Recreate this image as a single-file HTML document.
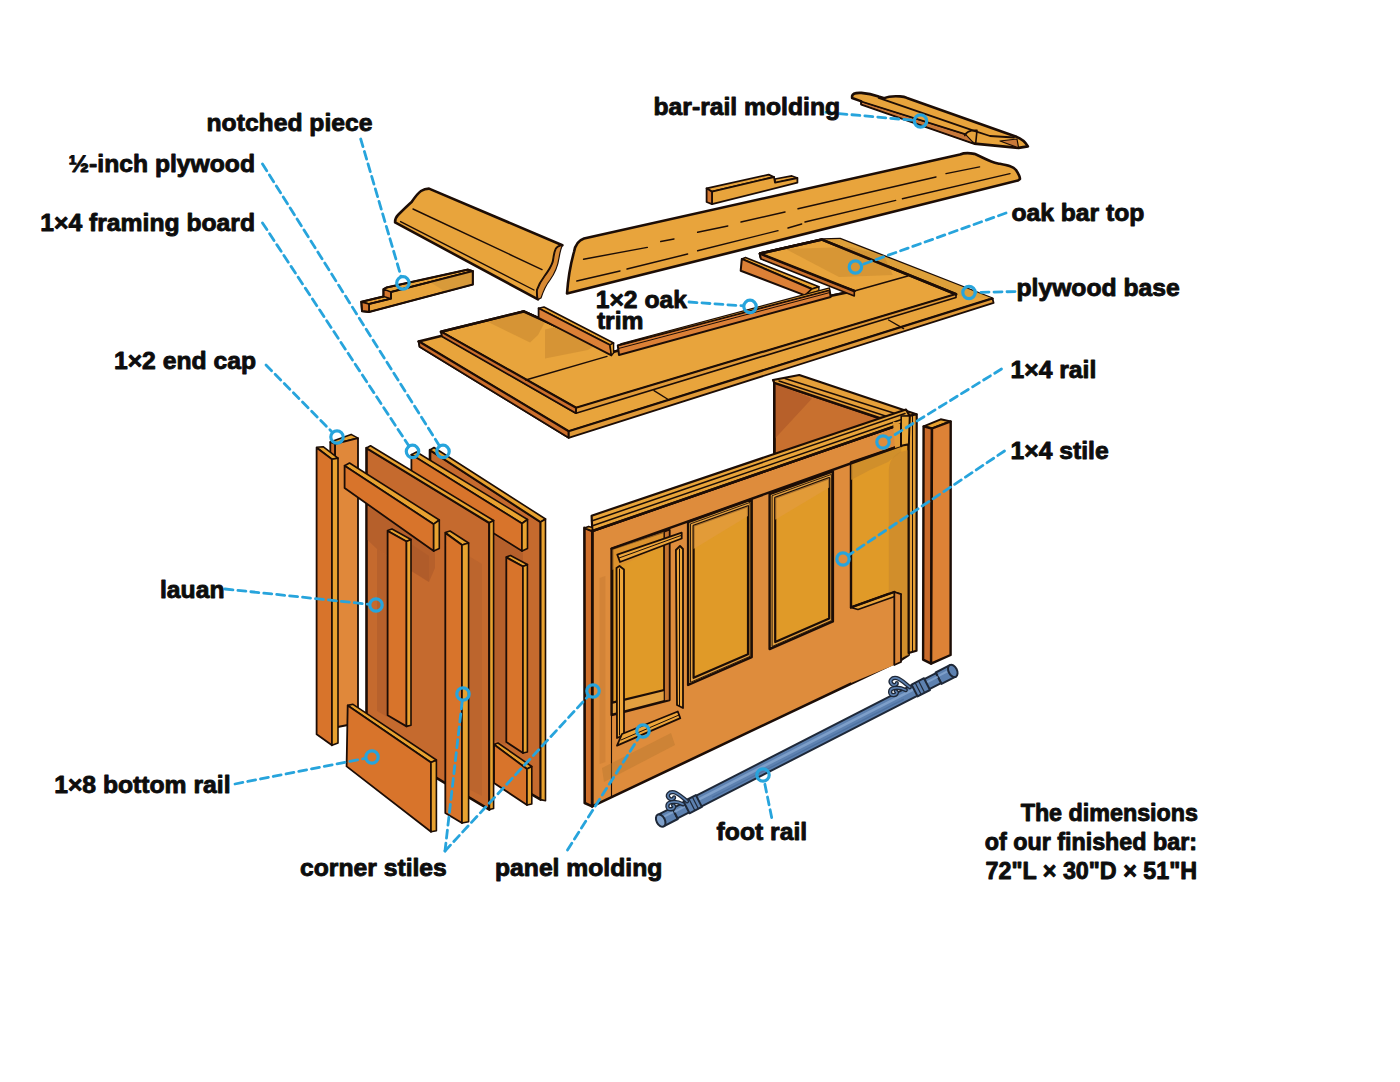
<!DOCTYPE html>
<html><head><meta charset="utf-8"><title>Bar diagram</title>
<style>html,body{margin:0;padding:0;background:#fff;width:1400px;height:1082px;overflow:hidden}svg{display:block}text{font-family:"Liberation Sans",sans-serif}</style>
</head><body>
<svg width="1400" height="1082" viewBox="0 0 1400 1082">
<rect width="1400" height="1082" fill="#ffffff"/>
<path d="M852.1,96 C852.5,93.5 856,92.6 861.4,92.9 C868,93.5 874,95 878.6,96.6 L884.3,98.2 C888,96.5 894,96 900,96.4 C903,96.6 905,97 907,97.9 L1015.7,136.4 C1020,138 1025,141 1027.9,146.4 L1018.6,147.9 L974.3,143.6 L861.4,104.3 L861.4,101.4 L852.1,98 Z" fill="#E8A43C" stroke="#1C0D06" stroke-width="2.6" stroke-linejoin="round" stroke-linecap="round" />
<polygon points="861.4,101.8 965.7,134.6 974.3,143.6 861.4,104.3" fill="#C9793A" stroke="#1C0D06" stroke-width="1.2" stroke-linejoin="round" />
<polygon points="1000.0,141.0 1017.0,139.0 1018.6,147.9" fill="#C9793A" stroke="#1C0D06" stroke-width="1.2" stroke-linejoin="round" />
<polyline points="878.6,97.9 975.7,131.4 990.0,136.0 1014.0,137.5" fill="none" stroke="#1C0D06" stroke-width="1.8" stroke-linecap="round" stroke-linejoin="round" />
<polyline points="861.4,101.4 965.7,134.3" fill="none" stroke="#1C0D06" stroke-width="1.6" stroke-linecap="round" stroke-linejoin="round" />
<path d="M964.8,135.6 C966,132 969,130 977,130.4 L975.7,143.3" fill="none" stroke="#1C0D06" stroke-width="1.6" stroke-linejoin="round" stroke-linecap="round" />
<path d="M567,293.5 C568,280 570,266 574,252 C575,246 578,240.5 584,238.5 L960,154.5 C966,152 970,153 975,154 C984,158 990,162 998,163.5 C1006,165 1013,166 1016,170 C1018,173 1020,176 1020,179 L1018,180.5 Z" fill="#E8A43C" stroke="#1C0D06" stroke-width="2.6" stroke-linejoin="round" stroke-linecap="round" />
<polyline points="583.5,259.2 647.3,247.4" fill="none" stroke="#1C0D06" stroke-width="1.4" stroke-linecap="round" stroke-linejoin="round" />
<polyline points="660.7,241.5 674.0,239.0" fill="none" stroke="#1C0D06" stroke-width="1.4" stroke-linecap="round" stroke-linejoin="round" />
<polyline points="697.6,232.3 727.8,226.0" fill="none" stroke="#1C0D06" stroke-width="1.4" stroke-linecap="round" stroke-linejoin="round" />
<polyline points="741.0,222.0 785.0,212.0" fill="none" stroke="#1C0D06" stroke-width="1.4" stroke-linecap="round" stroke-linejoin="round" />
<polyline points="798.0,208.8 936.0,177.0" fill="none" stroke="#1C0D06" stroke-width="1.4" stroke-linecap="round" stroke-linejoin="round" />
<polyline points="946.0,173.6 979.6,166.9" fill="none" stroke="#1C0D06" stroke-width="1.4" stroke-linecap="round" stroke-linejoin="round" />
<polyline points="576.8,281.0 620.0,271.0" fill="none" stroke="#1C0D06" stroke-width="1.4" stroke-linecap="round" stroke-linejoin="round" />
<polyline points="627.0,269.0 687.6,254.0" fill="none" stroke="#1C0D06" stroke-width="1.4" stroke-linecap="round" stroke-linejoin="round" />
<polyline points="697.6,250.8 778.0,230.6" fill="none" stroke="#1C0D06" stroke-width="1.4" stroke-linecap="round" stroke-linejoin="round" />
<polyline points="788.0,228.0 801.7,224.0" fill="none" stroke="#1C0D06" stroke-width="1.4" stroke-linecap="round" stroke-linejoin="round" />
<polyline points="805.0,222.0 895.7,200.4" fill="none" stroke="#1C0D06" stroke-width="1.4" stroke-linecap="round" stroke-linejoin="round" />
<polyline points="902.4,198.7 1010.0,173.6" fill="none" stroke="#1C0D06" stroke-width="1.4" stroke-linecap="round" stroke-linejoin="round" />
<polygon points="706.6,188.3 768.7,174.6 774.0,177.0 712.0,191.7" fill="#E8A43C" stroke="#1C0D06" stroke-width="1.8" stroke-linejoin="round" />
<polygon points="775.0,179.0 791.9,175.9 797.4,178.0 775.0,183.0" fill="#E8A43C" stroke="#1C0D06" stroke-width="1.6" stroke-linejoin="round" />
<polygon points="712.0,191.7 774.0,177.0 775.0,182.7 797.4,178.0 797.4,182.7 712.0,204.1" fill="#E8A43C" stroke="#1C0D06" stroke-width="1.8" stroke-linejoin="round" />
<polygon points="706.6,188.3 712.0,191.7 712.0,204.1 706.6,202.0" fill="#D4762E" stroke="#1C0D06" stroke-width="1.8" stroke-linejoin="round" />
<path d="M395.1,222.4 C395,219 396,217 398,215 C402,211 407,206 411.6,202 C415,197 418,193 421,191 C424,189 427,188.6 429,188.6 L562.4,245.2 C559,246 557,247 556,249 C554,253 554,258 553,262 C551,268 548,272 545,276 C542,280 539,285 537.3,290 C537,294 537.5,297 538,299.4 Z" fill="#E8A43C" stroke="#1C0D06" stroke-width="2.6" stroke-linejoin="round" stroke-linecap="round" />
<path d="M562.4,245.2 C559,246 557,247 556,249 C554,253 554,258 553,262 C551,268 548,272 545,276 C542,280 539,285 537.3,290 C537,294 537.5,297 538,299.4 L541,298 C543,292 546,285 550,280 C555,273 558,265 559,258 C560,252 561,248 562.4,245.2 Z" fill="#D98A34" stroke="#1C0D06" stroke-width="1.2" stroke-linejoin="round" stroke-linecap="round" />
<polyline points="413.0,209.0 542.0,269.6" fill="none" stroke="#1C0D06" stroke-width="1.4" stroke-linecap="round" stroke-linejoin="round" />
<polyline points="400.6,221.6 534.0,290.0" fill="none" stroke="#1C0D06" stroke-width="1.4" stroke-linecap="round" stroke-linejoin="round" />
<polygon points="361.3,301.8 383.5,296.5 383.5,289.2 386.4,287.6 468.0,269.6 472.8,271.1 391.0,292.0 391.0,298.6 369.0,304.0" fill="#E8A43C" stroke="#1C0D06" stroke-width="1.8" stroke-linejoin="round" />
<polygon points="369.0,304.0 391.0,298.6 391.0,292.0 472.8,271.1 472.8,284.5 369.0,312.0" fill="#E8A43C" stroke="#1C0D06" stroke-width="1.8" stroke-linejoin="round" />
<polygon points="430.0,282.0 472.8,271.1 472.8,284.5 445.0,291.5" fill="#D89A3A" />
<polygon points="361.3,301.8 369.0,304.0 369.0,312.0 362.0,311.2" fill="#D4762E" stroke="#1C0D06" stroke-width="1.8" stroke-linejoin="round" />
<polygon points="383.5,289.2 391.0,292.0 391.0,298.6 383.5,296.5" fill="#D4762E" stroke="#1C0D06" stroke-width="1.4" stroke-linejoin="round" />
<polyline points="369.0,304.0 391.0,298.6 391.0,292.0 472.8,271.1 472.8,284.5 369.0,312.0 362.0,311.2 361.3,301.8 383.5,296.5 383.5,289.2 386.4,287.6 468.0,269.6 472.8,271.1" fill="none" stroke="#1C0D06" stroke-width="2" stroke-linecap="round" stroke-linejoin="round" />
<polygon points="418.6,341.4 441.0,336.0 523.6,311.4 613.0,352.0 830.0,296.0 854.3,291.0 761.0,258.0 760.0,253.6 822.0,239.6 840.0,239.0 992.5,298.6 568.6,431.4" fill="#E8A43C" stroke="#1C0D06" stroke-width="2.6" stroke-linejoin="round" />
<polygon points="822.0,239.6 840.0,239.0 992.5,298.6 956.0,296.0" fill="#DDA03A" />
<polygon points="418.6,341.4 568.6,431.4 992.5,298.6 993.6,302.9 568.6,437.8 419.6,346.8" fill="#E09A38" stroke="#1C0D06" stroke-width="1.8" stroke-linejoin="round" />
<polygon points="418.6,341.4 568.6,431.4 568.6,437.8 419.6,346.8" fill="#CC6F2C" stroke="#1C0D06" stroke-width="1.8" stroke-linejoin="round" />
<polyline points="568.6,431.4 568.6,437.8" fill="none" stroke="#1C0D06" stroke-width="1.6" stroke-linecap="round" stroke-linejoin="round" />
<polyline points="654.0,390.7 669.0,400.0" fill="none" stroke="#1C0D06" stroke-width="1.4" stroke-linecap="round" stroke-linejoin="round" />
<polyline points="888.6,320.0 903.6,328.6" fill="none" stroke="#1C0D06" stroke-width="1.4" stroke-linecap="round" stroke-linejoin="round" />
<polygon points="441.0,331.8 523.6,311.4 613.0,352.0 830.0,296.0 854.3,291.0 761.0,258.0 760.0,253.6 822.0,239.6 956.0,294.3 576.0,407.9" fill="#E8A43C" stroke="#1C0D06" stroke-width="2.6" stroke-linejoin="round" />
<polygon points="760.0,253.6 854.3,291.0 854.3,296.0 761.0,259.0" fill="#C9702C" stroke="#1C0D06" stroke-width="1.6" stroke-linejoin="round" />
<polygon points="441.0,331.8 576.0,407.9 956.0,294.3 956.0,297.5 576.0,413.2 442.0,336.0" fill="#E09A38" stroke="#1C0D06" stroke-width="1.6" stroke-linejoin="round" />
<polygon points="441.0,331.8 576.0,407.9 576.0,413.2 442.0,336.5" fill="#CC6F2C" stroke="#1C0D06" stroke-width="1.8" stroke-linejoin="round" />
<polyline points="576.0,407.9 576.0,413.2" fill="none" stroke="#1C0D06" stroke-width="1.4" stroke-linecap="round" stroke-linejoin="round" />
<polyline points="525.7,380.0 607.0,356.4" fill="none" stroke="#1C0D06" stroke-width="1.4" stroke-linecap="round" stroke-linejoin="round" />
<polyline points="854.3,291.0 907.8,276.0" fill="none" stroke="#1C0D06" stroke-width="1.4" stroke-linecap="round" stroke-linejoin="round" />
<polygon points="488.0,322.0 523.6,311.4 545.0,322.0 538.0,335.0 530.0,342.5" fill="#C98A30" opacity="0.6"/>
<polygon points="545.0,329.6 560.0,326.0 598.0,344.0 587.8,350.0 545.0,358.6" fill="#C98A30" opacity="0.6"/>
<polygon points="785.7,249.0 850.0,247.0 884.0,255.7 892.8,275.0 839.0,277.0" fill="#C98A30" opacity="0.55"/>
<polyline points="441.0,331.8 523.6,311.4 613.0,352.0" fill="none" stroke="#1C0D06" stroke-width="2.6" stroke-linecap="round" stroke-linejoin="round" />
<polyline points="854.3,291.0 760.0,253.6 822.0,239.6 956.0,294.3" fill="none" stroke="#1C0D06" stroke-width="2.6" stroke-linecap="round" stroke-linejoin="round" />
<polygon points="538.6,308.2 544.0,307.0 613.6,343.0 610.0,345.0" fill="#E8A230" stroke="#1C0D06" stroke-width="1.6" stroke-linejoin="round" />
<polygon points="538.6,308.2 610.0,345.0 611.4,355.4 538.6,317.8" fill="#DC8036" stroke="#1C0D06" stroke-width="1.8" stroke-linejoin="round" />
<polygon points="610.0,345.0 613.6,343.0 613.6,353.0 611.4,355.4" fill="#E8A230" stroke="#1C0D06" stroke-width="1.4" stroke-linejoin="round" />
<polygon points="741.8,258.9 745.5,257.5 818.9,286.8 812.0,289.0" fill="#E8A230" stroke="#1C0D06" stroke-width="1.6" stroke-linejoin="round" />
<polygon points="741.8,258.9 812.0,289.0 805.0,295.4 740.7,270.7" fill="#DC8036" stroke="#1C0D06" stroke-width="2.0" stroke-linejoin="round" />
<polygon points="812.0,289.0 818.9,286.8 818.9,291.0 805.0,295.4" fill="#E8A230" stroke="#1C0D06" stroke-width="1.4" stroke-linejoin="round" />
<polygon points="617.8,345.5 829.6,290.0 830.7,297.0 619.0,355.0" fill="#DC8036" stroke="#1C0D06" stroke-width="2.0" stroke-linejoin="round" />
<polygon points="617.8,345.5 621.5,343.5 829.6,287.8 829.6,290.0" fill="#E8A230" stroke="#1C0D06" stroke-width="1.2" stroke-linejoin="round" />
<polyline points="618.5,348.5 830.0,292.5" fill="none" stroke="#1C0D06" stroke-width="1.0" stroke-linecap="round" stroke-linejoin="round" />
<polygon points="774.3,382.9 885.0,420.0 885.0,470.0 774.3,470.0" fill="#C8702F" stroke="#1C0D06" stroke-width="2.4" stroke-linejoin="round" />
<polygon points="774.3,382.9 812.0,398.6 774.3,439.3" fill="#B7602A" />
<polyline points="774.3,381.0 774.3,455.0" fill="none" stroke="#1C0D06" stroke-width="2.6" stroke-linecap="round" stroke-linejoin="round" />
<polygon points="773.0,380.0 799.3,375.0 916.4,414.3 909.6,415.9 879.3,417.9 774.3,382.9" fill="#E6A03A" stroke="#1C0D06" stroke-width="2.2" stroke-linejoin="round" />
<polyline points="785.0,378.5 903.0,416.0" fill="none" stroke="#1C0D06" stroke-width="1.5" stroke-linecap="round" stroke-linejoin="round" />
<polyline points="779.0,381.0 890.0,417.5" fill="none" stroke="#1C0D06" stroke-width="1.5" stroke-linecap="round" stroke-linejoin="round" />
<polygon points="592.3,531.0 901.2,424.0 901.0,660.0 592.1,806.4" fill="#DE8C3C" stroke="#1C0D06" stroke-width="2.6" stroke-linejoin="round" />
<polygon points="591.6,515.7 906.0,409.5 909.6,415.9 901.2,424.0 592.3,531.0" fill="#E9A53A" stroke="#1C0D06" stroke-width="2.2" stroke-linejoin="round" />
<polyline points="591.6,521.0 905.0,413.5" fill="none" stroke="#1C0D06" stroke-width="1.5" stroke-linecap="round" stroke-linejoin="round" />
<polyline points="591.8,526.0 903.0,419.0" fill="none" stroke="#1C0D06" stroke-width="1.5" stroke-linecap="round" stroke-linejoin="round" />
<polygon points="584.4,527.9 592.3,531.0 592.1,806.4 584.7,803.0" fill="#CF6F2B" stroke="#1C0D06" stroke-width="2.6" stroke-linejoin="round" />
<polygon points="584.4,527.9 588.7,526.4 592.3,527.5 592.3,531.0" fill="#E8A230" stroke="#1C0D06" stroke-width="1.6" stroke-linejoin="round" />
<polyline points="592.3,531.0 901.2,424.0" fill="none" stroke="#1C0D06" stroke-width="2.4" stroke-linecap="round" stroke-linejoin="round" />
<polyline points="611.5,548.9 611.5,797.3" fill="none" stroke="#1C0D06" stroke-width="1.1" stroke-linecap="round" stroke-linejoin="round" />
<polygon points="688.1,522.0 751.7,499.3 751.7,657.1 688.1,685.0" fill="#E2A040" stroke="#1C0D06" stroke-width="2.4" stroke-linejoin="round" />
<polygon points="690.5,523.8 750.1,502.4 750.1,656.3 690.5,682.3" fill="#E2A040" stroke="#1C0D06" stroke-width="0.9" stroke-linejoin="round" />
<polygon points="693.6,525.8 748.0,506.2 748.0,654.2 693.6,677.8" fill="#E09A28" stroke="#1C0D06" stroke-width="2.2" stroke-linejoin="round" />
<polygon points="693.6,525.8 748.0,506.2 748.0,515.9 693.6,548.9" fill="#E39B3E" opacity="0.7"/>
<polygon points="769.6,494.1 832.9,471.4 832.9,621.4 769.6,649.1" fill="#E2A040" stroke="#1C0D06" stroke-width="2.4" stroke-linejoin="round" />
<polygon points="772.1,495.7 831.4,474.4 831.4,620.6 772.1,646.5" fill="#E2A040" stroke="#1C0D06" stroke-width="0.9" stroke-linejoin="round" />
<polygon points="775.2,497.7 829.2,478.1 829.2,618.6 775.2,642.1" fill="#E09A28" stroke="#1C0D06" stroke-width="2.2" stroke-linejoin="round" />
<polygon points="775.2,497.7 829.2,478.1 829.2,487.4 775.2,519.8" fill="#E39B3E" opacity="0.7"/>
<polygon points="611.6,548.8 669.4,530.0 669.4,700.0 611.6,715.0" fill="#E2A040" stroke="#1C0D06" stroke-width="2.4" stroke-linejoin="round" />
<polygon points="612.3,548.9 664.3,531.6 664.3,690.0 612.3,702.6" fill="#E09A28" stroke="#1C0D06" stroke-width="2.2" stroke-linejoin="round" />
<polygon points="612.3,548.9 664.3,531.6 664.3,545.0 612.3,570.0" fill="#D88D30" opacity="0.6"/>
<polygon points="664.3,532.0 669.4,530.0 669.4,700.0 664.3,701.0" fill="#C57430" stroke="#1C0D06" stroke-width="1.2" stroke-linejoin="round" />
<polygon points="602.0,768.0 671.0,733.0 675.0,745.0 604.0,782.0" fill="#B8772E" opacity="0.45"/>
<polygon points="599.6,578.0 605.4,576.0 605.4,762.0 599.6,764.0" fill="#C67A32" opacity="0.5"/>
<polygon points="851.0,462.5 901.2,445.5 908.7,444.0 908.7,655.0 901.0,660.0 894.3,592.0 851.0,607.5" fill="#E09A28" stroke="#1C0D06" stroke-width="2.4" stroke-linejoin="round" />
<path d="M888.8,470 C889,462 893,455 900,452 L908.7,450 L908.7,655 L888.8,663 Z" fill="#CC8A2C" opacity="0.75"/>
<polygon points="851.0,462.5 901.2,445.5 901.2,452.0 888.0,462.0 870.0,470.0 851.0,480.0" fill="#C98A2C" opacity="0.7"/>
<polyline points="611.5,548.7 901.2,445.5" fill="none" stroke="#1C0D06" stroke-width="2.4" stroke-linecap="round" stroke-linejoin="round" />
<polygon points="893.0,421.5 901.2,424.0 901.2,446.0 895.0,448.0" fill="#E39A35" />
<polyline points="901.2,424.0 901.2,446.0" fill="none" stroke="#1C0D06" stroke-width="2.4" stroke-linecap="round" stroke-linejoin="round" />
<polygon points="851.0,607.5 894.3,592.0 894.3,665.0 851.0,683.0" fill="#DE8C3C" />
<polygon points="851.0,607.5 894.3,592.0 901.0,594.2 858.0,609.5" fill="#E9A53A" stroke="#1C0D06" stroke-width="1.6" stroke-linejoin="round" />
<polygon points="894.3,592.0 901.0,594.2 901.0,662.0 894.3,665.0" fill="#D98538" stroke="#1C0D06" stroke-width="1.8" stroke-linejoin="round" />
<polyline points="851.0,607.5 894.3,592.0" fill="none" stroke="#1C0D06" stroke-width="2.2" stroke-linecap="round" stroke-linejoin="round" />
<polygon points="908.7,444.0 909.6,415.9 916.7,414.3 916.5,650.7 908.7,653.0" fill="#E5A038" stroke="#1C0D06" stroke-width="2.2" stroke-linejoin="round" />
<polyline points="912.5,416.0 912.5,651.0" fill="none" stroke="#1C0D06" stroke-width="1.0" stroke-linecap="round" stroke-linejoin="round" />
<polygon points="901.2,424.0 901.2,416.0 909.6,415.9 908.7,444.0 901.2,445.5" fill="#E8A83A" stroke="#1C0D06" stroke-width="1.6" stroke-linejoin="round" />
<polygon points="616.5,567.9 619.5,566.0 624.0,569.5 624.0,735.0 617.0,738.0" fill="#EDA53A" stroke="#1C0D06" stroke-width="1.8" stroke-linejoin="round" />
<polyline points="619.5,569.0 619.5,735.0" fill="none" stroke="#1C0D06" stroke-width="1.0" stroke-linecap="round" stroke-linejoin="round" />
<polygon points="675.9,550.0 680.0,546.0 683.0,549.0 683.0,708.0 677.0,705.0" fill="#EDA53A" stroke="#1C0D06" stroke-width="1.8" stroke-linejoin="round" />
<polyline points="679.5,549.0 679.5,706.0" fill="none" stroke="#1C0D06" stroke-width="1.0" stroke-linecap="round" stroke-linejoin="round" />
<polygon points="617.3,554.7 681.7,532.7 681.7,538.5 620.0,562.0" fill="#EDA53A" stroke="#1C0D06" stroke-width="1.8" stroke-linejoin="round" />
<polyline points="619.0,558.0 681.0,535.5" fill="none" stroke="#1C0D06" stroke-width="1.0" stroke-linecap="round" stroke-linejoin="round" />
<polygon points="622.0,734.0 677.8,711.5 680.3,718.2 617.0,745.6" fill="#EDA53A" stroke="#1C0D06" stroke-width="1.8" stroke-linejoin="round" />
<polyline points="621.0,740.0 679.0,715.0" fill="none" stroke="#1C0D06" stroke-width="1.0" stroke-linecap="round" stroke-linejoin="round" />
<polygon points="923.6,426.4 940.7,419.3 950.7,421.4 932.0,428.5" fill="#E8A230" stroke="#1C0D06" stroke-width="2.0" stroke-linejoin="round" />
<polygon points="923.6,426.4 932.0,428.5 931.1,663.6 923.1,659.6" fill="#C96A2A" stroke="#1C0D06" stroke-width="2.4" stroke-linejoin="round" />
<polygon points="932.0,428.5 950.7,421.4 950.6,655.0 931.1,663.6" fill="#DD8236" stroke="#1C0D06" stroke-width="2.4" stroke-linejoin="round" />
<polygon points="690.9,798.4 917.2,682.4 922.6,693.1 696.3,809.1" fill="#5D81B0" stroke="#1E2838" stroke-width="2.0" stroke-linejoin="round" />
<polyline points="700.0,798.8 912.1,690.1" fill="none" stroke="#7E9FC9" stroke-width="2.6" stroke-linecap="round" stroke-linejoin="round" />
<polyline points="712.7,797.1 903.4,699.4" fill="none" stroke="#4E72A2" stroke-width="1.2" stroke-linecap="round" stroke-linejoin="round" />
<polygon points="657.8,814.9 672.0,807.6 677.8,819.0 663.6,826.3" fill="#5D81B0" stroke="#1E2838" stroke-width="2.0" stroke-linejoin="round" />
<polyline points="661.5,817.9 673.1,812.0" fill="none" stroke="#7E9FC9" stroke-width="2.0" stroke-linecap="round" stroke-linejoin="round" />
<polygon points="672.4,808.3 687.5,800.6 692.6,810.6 677.5,818.3" fill="#5D81B0" stroke="#1E2838" stroke-width="2.0" stroke-linejoin="round" />
<polyline points="675.1,811.5 688.4,804.6" fill="none" stroke="#7E9FC9" stroke-width="2.0" stroke-linecap="round" stroke-linejoin="round" />
<polygon points="683.5,801.5 695.9,795.1 701.9,806.9 689.5,813.3" fill="#5D81B0" stroke="#1E2838" stroke-width="2.0" stroke-linejoin="round" />
<polyline points="689.1,799.3 694.6,810.0" fill="none" stroke="#1E2838" stroke-width="1.2" stroke-linecap="round" stroke-linejoin="round" />
<polyline points="692.6,797.5 698.1,808.2" fill="none" stroke="#1E2838" stroke-width="1.2" stroke-linecap="round" stroke-linejoin="round" />
<ellipse cx="660.7" cy="820.6" rx="4.2" ry="6.6" transform="rotate(-27.1 660.7 820.6)" fill="#7E9FC9" stroke="#1E2838" stroke-width="2"/>
<polygon points="935.7,672.5 949.9,665.2 955.7,676.6 941.5,683.9" fill="#5D81B0" stroke="#1E2838" stroke-width="2.0" stroke-linejoin="round" />
<polyline points="938.6,675.9 950.1,670.0" fill="none" stroke="#7E9FC9" stroke-width="2.0" stroke-linecap="round" stroke-linejoin="round" />
<polygon points="920.9,680.9 936.0,673.2 941.1,683.2 926.0,690.9" fill="#5D81B0" stroke="#1E2838" stroke-width="2.0" stroke-linejoin="round" />
<polyline points="923.6,684.0 937.0,677.2" fill="none" stroke="#7E9FC9" stroke-width="2.0" stroke-linecap="round" stroke-linejoin="round" />
<polygon points="911.6,684.6 924.0,678.2 930.0,690.0 917.6,696.4" fill="#5D81B0" stroke="#1E2838" stroke-width="2.0" stroke-linejoin="round" />
<polyline points="918.9,681.5 924.4,692.2" fill="none" stroke="#1E2838" stroke-width="1.2" stroke-linecap="round" stroke-linejoin="round" />
<polyline points="915.4,683.3 920.9,694.0" fill="none" stroke="#1E2838" stroke-width="1.2" stroke-linecap="round" stroke-linejoin="round" />
<ellipse cx="952.8" cy="670.9" rx="4.2" ry="6.6" transform="rotate(-27.1 952.8 670.9)" fill="#5D81B0" stroke="#1E2838" stroke-width="2"/>
<path d="M687.1,801.3 C682.1,797.3 678.1,793.3 674.1,792.3 C669.1,791.3 666.1,795.3 669.1,798.3 C671.1,800.3 674.1,799.3 674.1,797.3" fill="none" stroke="#1E2838" stroke-width="4.2" stroke-linejoin="round" stroke-linecap="round" />
<path d="M687.1,801.3 C682.1,797.3 678.1,793.3 674.1,792.3 C669.1,791.3 666.1,795.3 669.1,798.3 C671.1,800.3 674.1,799.3 674.1,797.3" fill="none" stroke="#5D81B0" stroke-width="1.6" stroke-linejoin="round" stroke-linecap="round" />
<path d="M683.1,804.3 C679.1,802.3 675.1,801.3 671.1,802.3 C666.1,803.3 666.1,809.3 671.1,809.3 C674.1,809.3 675.1,806.3 673.1,805.3" fill="none" stroke="#1E2838" stroke-width="4.2" stroke-linejoin="round" stroke-linecap="round" />
<path d="M683.1,804.3 C679.1,802.3 675.1,801.3 671.1,802.3 C666.1,803.3 666.1,809.3 671.1,809.3 C674.1,809.3 675.1,806.3 673.1,805.3" fill="none" stroke="#5D81B0" stroke-width="1.6" stroke-linejoin="round" stroke-linecap="round" />
<path d="M909.8,687.1 C904.8,683.1 900.8,679.1 896.8,678.1 C891.8,677.1 888.8,681.1 891.8,684.1 C893.8,686.1 896.8,685.1 896.8,683.1" fill="none" stroke="#1E2838" stroke-width="4.2" stroke-linejoin="round" stroke-linecap="round" />
<path d="M909.8,687.1 C904.8,683.1 900.8,679.1 896.8,678.1 C891.8,677.1 888.8,681.1 891.8,684.1 C893.8,686.1 896.8,685.1 896.8,683.1" fill="none" stroke="#5D81B0" stroke-width="1.6" stroke-linejoin="round" stroke-linecap="round" />
<path d="M905.8,690.1 C901.8,688.1 897.8,687.1 893.8,688.1 C888.8,689.1 888.8,695.1 893.8,695.1 C896.8,695.1 897.8,692.1 895.8,691.1" fill="none" stroke="#1E2838" stroke-width="4.2" stroke-linejoin="round" stroke-linecap="round" />
<path d="M905.8,690.1 C901.8,688.1 897.8,687.1 893.8,688.1 C888.8,689.1 888.8,695.1 893.8,695.1 C896.8,695.1 897.8,692.1 895.8,691.1" fill="none" stroke="#5D81B0" stroke-width="1.6" stroke-linejoin="round" stroke-linecap="round" />
<polygon points="430.0,450.0 540.7,522.0 540.7,799.6 430.0,735.0" fill="#C56A2E" stroke="#1C0D06" stroke-width="2.6" stroke-linejoin="round" />
<polygon points="430.0,450.0 434.0,447.5 545.5,519.0 540.7,522.0" fill="#E8A230" stroke="#1C0D06" stroke-width="1.6" stroke-linejoin="round" />
<polygon points="540.7,522.0 545.5,519.0 545.5,800.8 540.7,799.6" fill="#E8A230" stroke="#1C0D06" stroke-width="1.6" stroke-linejoin="round" />
<polygon points="494.0,535.0 523.0,553.0 523.0,565.0 506.0,567.0 506.0,745.0 494.0,740.0" fill="#A9582A" opacity="0.55"/>
<polygon points="411.4,454.6 416.5,452.0 527.5,519.5 522.0,523.5" fill="#E8A230" stroke="#1C0D06" stroke-width="1.6" stroke-linejoin="round" />
<polygon points="411.4,454.6 522.0,523.5 522.0,551.0 411.4,482.0" fill="#D8742B" stroke="#1C0D06" stroke-width="1.8" stroke-linejoin="round" />
<polygon points="522.0,523.5 527.5,519.5 527.5,548.5 522.0,551.0" fill="#E8A230" stroke="#1C0D06" stroke-width="1.6" stroke-linejoin="round" />
<polygon points="506.3,557.0 510.5,555.5 527.4,564.5 523.0,566.5" fill="#E8A230" stroke="#1C0D06" stroke-width="1.6" stroke-linejoin="round" />
<polygon points="506.3,557.5 523.0,566.5 523.0,753.0 506.3,742.0" fill="#D8742B" stroke="#1C0D06" stroke-width="1.8" stroke-linejoin="round" />
<polygon points="523.0,566.5 527.4,564.5 527.4,752.0 523.0,753.0" fill="#E8A230" stroke="#1C0D06" stroke-width="1.6" stroke-linejoin="round" />
<polygon points="494.0,744.5 498.0,743.0 531.8,766.5 527.0,769.0" fill="#E8A230" stroke="#1C0D06" stroke-width="1.6" stroke-linejoin="round" />
<polygon points="494.0,744.5 527.0,769.0 527.0,805.0 494.0,783.0" fill="#D8742B" stroke="#1C0D06" stroke-width="1.8" stroke-linejoin="round" />
<polygon points="527.0,769.0 531.8,766.5 531.8,804.0 527.0,805.0" fill="#E8A230" stroke="#1C0D06" stroke-width="1.6" stroke-linejoin="round" />
<polygon points="366.5,448.0 489.4,522.8 489.4,809.6 366.5,736.0" fill="#C56A2E" stroke="#1C0D06" stroke-width="2.6" stroke-linejoin="round" />
<polygon points="366.5,448.0 370.5,445.8 493.6,520.5 489.4,522.8" fill="#E8A230" stroke="#1C0D06" stroke-width="1.6" stroke-linejoin="round" />
<polygon points="489.4,522.8 493.6,520.5 493.6,808.5 489.4,809.6" fill="#E8A230" stroke="#1C0D06" stroke-width="1.6" stroke-linejoin="round" />
<polygon points="367.5,506.0 435.0,549.0 435.0,568.0 429.0,582.0 377.0,549.0 367.5,540.0" fill="#A9582A" opacity="0.55"/>
<polygon points="377.0,549.0 387.6,556.0 387.6,717.0 377.0,711.0" fill="#A9582A" opacity="0.5"/>
<polygon points="411.0,544.0 429.0,556.0 429.0,582.0 411.0,571.0" fill="#A9582A" opacity="0.45"/>
<polygon points="468.6,556.0 482.0,564.0 482.0,796.0 468.6,789.0" fill="#A9582A" opacity="0.3"/>
<polygon points="387.6,530.6 392.0,529.0 411.0,539.5 406.5,541.5" fill="#E8A230" stroke="#1C0D06" stroke-width="1.6" stroke-linejoin="round" />
<polygon points="387.6,531.0 406.5,541.5 406.5,726.4 387.6,715.3" fill="#D8742B" stroke="#1C0D06" stroke-width="1.8" stroke-linejoin="round" />
<polygon points="406.5,541.5 411.0,539.5 411.0,725.3 406.5,726.4" fill="#E8A230" stroke="#1C0D06" stroke-width="1.6" stroke-linejoin="round" />
<polygon points="445.3,532.5 450.0,531.0 468.6,543.0 462.0,545.0" fill="#E8A230" stroke="#1C0D06" stroke-width="1.6" stroke-linejoin="round" />
<polygon points="445.3,533.0 462.0,545.0 462.0,823.0 445.3,813.0" fill="#D8742B" stroke="#1C0D06" stroke-width="1.8" stroke-linejoin="round" />
<polygon points="462.0,545.0 468.6,543.0 468.6,821.8 462.0,823.0" fill="#E8A230" stroke="#1C0D06" stroke-width="1.6" stroke-linejoin="round" />
<polygon points="330.3,442.0 351.1,434.4 358.0,438.1 335.1,443.9" fill="#E8A230" stroke="#1C0D06" stroke-width="1.6" stroke-linejoin="round" />
<polygon points="330.3,442.0 335.1,443.9 335.1,727.5 330.3,726.0" fill="#C96A2A" stroke="#1C0D06" stroke-width="1.8" stroke-linejoin="round" />
<polygon points="335.1,443.9 358.0,438.1 358.0,723.0 335.1,727.5" fill="#E0883A" stroke="#1C0D06" stroke-width="1.8" stroke-linejoin="round" />
<polygon points="344.6,465.7 349.5,463.0 439.3,520.0 433.7,524.2" fill="#E8A230" stroke="#1C0D06" stroke-width="1.6" stroke-linejoin="round" />
<polygon points="344.6,465.7 433.7,524.2 433.7,551.1 344.6,488.0" fill="#D8742B" stroke="#1C0D06" stroke-width="1.8" stroke-linejoin="round" />
<polygon points="433.7,524.2 439.3,520.0 439.3,548.5 433.7,551.1" fill="#E8A230" stroke="#1C0D06" stroke-width="1.6" stroke-linejoin="round" />
<polygon points="347.7,705.4 353.0,704.3 436.4,760.0 431.0,762.5" fill="#E8A230" stroke="#1C0D06" stroke-width="1.6" stroke-linejoin="round" />
<polygon points="347.7,705.4 431.0,762.5 431.0,831.8 346.6,766.4" fill="#D8742B" stroke="#1C0D06" stroke-width="1.8" stroke-linejoin="round" />
<polygon points="431.0,762.5 436.4,760.0 436.4,830.7 431.0,831.8" fill="#E8A230" stroke="#1C0D06" stroke-width="1.6" stroke-linejoin="round" />
<polygon points="316.6,447.3 323.1,446.7 338.0,458.1 332.0,459.3" fill="#E8A230" stroke="#1C0D06" stroke-width="1.6" stroke-linejoin="round" />
<polygon points="316.6,447.8 332.0,459.3 332.0,745.3 316.6,734.2" fill="#D8742B" stroke="#1C0D06" stroke-width="1.8" stroke-linejoin="round" />
<polygon points="332.0,459.3 338.0,458.1 338.0,743.0 332.0,745.3" fill="#E8A230" stroke="#1C0D06" stroke-width="1.6" stroke-linejoin="round" />
<polyline points="826.0,112.4 914.0,120.4" fill="none" stroke="#27A4DC" stroke-width="2.8" stroke-linecap="round" stroke-linejoin="round" stroke-dasharray="8 5" stroke-linecap="butt"/>
<polyline points="1006.0,213.0 861.5,264.8" fill="none" stroke="#27A4DC" stroke-width="2.8" stroke-linecap="round" stroke-linejoin="round" stroke-dasharray="8 5" stroke-linecap="butt"/>
<polyline points="1015.0,291.6 975.5,292.4" fill="none" stroke="#27A4DC" stroke-width="2.8" stroke-linecap="round" stroke-linejoin="round" stroke-dasharray="8 5" stroke-linecap="butt"/>
<polyline points="689.0,302.0 743.5,305.9" fill="none" stroke="#27A4DC" stroke-width="2.8" stroke-linecap="round" stroke-linejoin="round" stroke-dasharray="8 5" stroke-linecap="butt"/>
<polyline points="1001.5,369.0 888.5,438.6" fill="none" stroke="#27A4DC" stroke-width="2.8" stroke-linecap="round" stroke-linejoin="round" stroke-dasharray="8 5" stroke-linecap="butt"/>
<polyline points="1004.5,451.0 848.4,555.4" fill="none" stroke="#27A4DC" stroke-width="2.8" stroke-linecap="round" stroke-linejoin="round" stroke-dasharray="8 5" stroke-linecap="butt"/>
<polyline points="360.7,139.0 401.1,276.7" fill="none" stroke="#27A4DC" stroke-width="2.8" stroke-linecap="round" stroke-linejoin="round" stroke-dasharray="8 5" stroke-linecap="butt"/>
<polyline points="262.5,164.0 439.5,445.9" fill="none" stroke="#27A4DC" stroke-width="2.8" stroke-linecap="round" stroke-linejoin="round" stroke-dasharray="8 5" stroke-linecap="butt"/>
<polyline points="262.5,222.9 408.9,446.0" fill="none" stroke="#27A4DC" stroke-width="2.8" stroke-linecap="round" stroke-linejoin="round" stroke-dasharray="8 5" stroke-linecap="butt"/>
<polyline points="266.0,365.0 332.4,432.4" fill="none" stroke="#27A4DC" stroke-width="2.8" stroke-linecap="round" stroke-linejoin="round" stroke-dasharray="8 5" stroke-linecap="butt"/>
<polyline points="225.0,589.0 369.5,604.3" fill="none" stroke="#27A4DC" stroke-width="2.8" stroke-linecap="round" stroke-linejoin="round" stroke-dasharray="8 5" stroke-linecap="butt"/>
<polyline points="235.0,784.0 365.6,758.3" fill="none" stroke="#27A4DC" stroke-width="2.8" stroke-linecap="round" stroke-linejoin="round" stroke-dasharray="8 5" stroke-linecap="butt"/>
<polyline points="445.0,851.0 462.3,700.5" fill="none" stroke="#27A4DC" stroke-width="2.8" stroke-linecap="round" stroke-linejoin="round" stroke-dasharray="8 5" stroke-linecap="butt"/>
<polyline points="445.0,851.0 588.6,695.8" fill="none" stroke="#27A4DC" stroke-width="2.8" stroke-linecap="round" stroke-linejoin="round" stroke-dasharray="8 5" stroke-linecap="butt"/>
<polyline points="567.5,850.0 639.5,736.5" fill="none" stroke="#27A4DC" stroke-width="2.8" stroke-linecap="round" stroke-linejoin="round" stroke-dasharray="8 5" stroke-linecap="butt"/>
<polyline points="771.7,817.6 764.3,781.4" fill="none" stroke="#27A4DC" stroke-width="2.8" stroke-linecap="round" stroke-linejoin="round" stroke-dasharray="8 5" stroke-linecap="butt"/>
<circle cx="920.5" cy="121" r="6.2" fill="none" stroke="#27A4DC" stroke-width="3.2"/>
<circle cx="843" cy="559" r="6.2" fill="none" stroke="#27A4DC" stroke-width="3.2"/>
<circle cx="763" cy="775" r="6.2" fill="none" stroke="#27A4DC" stroke-width="3.2"/>
<circle cx="593" cy="691" r="6.2" fill="none" stroke="#27A4DC" stroke-width="3.2"/>
<circle cx="969" cy="292.5" r="6.2" fill="none" stroke="#27A4DC" stroke-width="3.2"/>
<circle cx="337" cy="437" r="6.2" fill="none" stroke="#27A4DC" stroke-width="3.2"/>
<circle cx="855.4" cy="267" r="6.2" fill="none" stroke="#27A4DC" stroke-width="3.2"/>
<circle cx="402.9" cy="282.9" r="6.2" fill="none" stroke="#27A4DC" stroke-width="3.2"/>
<circle cx="443" cy="451.4" r="6.2" fill="none" stroke="#27A4DC" stroke-width="3.2"/>
<circle cx="412.5" cy="451.4" r="6.2" fill="none" stroke="#27A4DC" stroke-width="3.2"/>
<circle cx="463" cy="694" r="6.2" fill="none" stroke="#27A4DC" stroke-width="3.2"/>
<circle cx="372" cy="757" r="6.2" fill="none" stroke="#27A4DC" stroke-width="3.2"/>
<circle cx="883" cy="442" r="6.2" fill="none" stroke="#27A4DC" stroke-width="3.2"/>
<circle cx="750" cy="306.4" r="6.2" fill="none" stroke="#27A4DC" stroke-width="3.2"/>
<circle cx="643" cy="731" r="6.2" fill="none" stroke="#27A4DC" stroke-width="3.2"/>
<circle cx="376" cy="605" r="6.2" fill="none" stroke="#27A4DC" stroke-width="3.2"/>
<g font-family="Liberation Sans, sans-serif" font-weight="bold" fill="#0d0d0d" stroke="#0d0d0d" stroke-width="0.9" stroke-linejoin="round">
<text x="372.5" y="130.5" font-size="24.7" text-anchor="end">notched piece</text>
<text x="255" y="172" font-size="24.7" text-anchor="end">½-inch plywood</text>
<text x="255" y="231" font-size="24.7" text-anchor="end">1×4 framing board</text>
<text x="256" y="368.7" font-size="24.7" text-anchor="end">1×2 end cap</text>
<text x="224.5" y="597.5" font-size="24.7" text-anchor="end">lauan</text>
<text x="230.5" y="793" font-size="24.7" text-anchor="end">1×8 bottom rail</text>
<text x="300" y="876.3" font-size="24.7" text-anchor="start">corner stiles</text>
<text x="495" y="876.3" font-size="24.7" text-anchor="start">panel molding</text>
<text x="716.6" y="840.4" font-size="24.7" text-anchor="start">foot rail</text>
<text x="653.5" y="115.4" font-size="24.7" text-anchor="start">bar-rail molding</text>
<text x="1011.4" y="220.5" font-size="24.7" text-anchor="start">oak bar top</text>
<text x="1016.5" y="295.5" font-size="24.7" text-anchor="start">plywood base</text>
<text x="1010.5" y="377.5" font-size="24.7" text-anchor="start">1×4 rail</text>
<text x="1010.5" y="459.4" font-size="24.7" text-anchor="start">1×4 stile</text>
<text x="595.7" y="307.9" font-size="24.7" text-anchor="start">1×2 oak</text>
<text x="596.9" y="329.3" font-size="24.7" text-anchor="start">trim</text>
<text x="1198" y="821.2" font-size="23.3" text-anchor="end">The dimensions</text>
<text x="1197" y="850" font-size="23.3" text-anchor="end">of our finished bar:</text>
<text x="1197" y="879.1" font-size="23.3" text-anchor="end">72&quot;L × 30&quot;D × 51&quot;H</text>
</g>
</svg>
</body></html>
